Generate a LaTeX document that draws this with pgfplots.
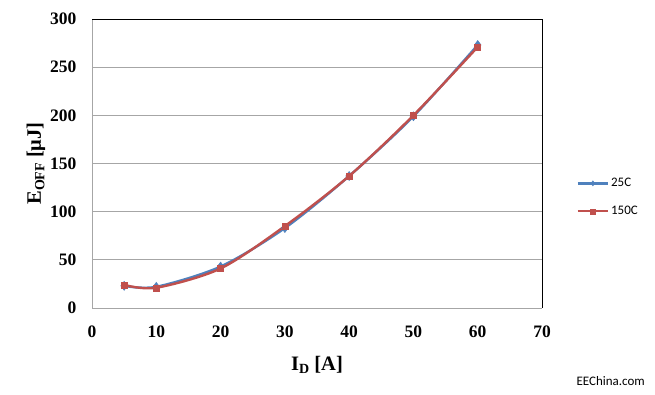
\documentclass[border=0pt]{standalone}
\usepackage{pgfplots}
\pgfplotsset{compat=1.18}
\usepackage{fontspec}
\setmainfont{Liberation Serif}
\newfontfamily\calibri{Carlito}
\definecolor{xblue}{HTML}{4F81BD}
\definecolor{xred}{HTML}{C0504D}
\definecolor{xgrid}{HTML}{A6A6A6}
\begin{document}
\begin{tikzpicture}
\useasboundingbox (0pt,0pt) rectangle (655pt,395pt);
\begin{axis}[
  at={(92pt,87pt)}, anchor=origin,
  scale only axis, width=450pt, height=289pt,
  xmin=0, xmax=70, ymin=0, ymax=300,
  xtick={0,10,...,70}, ytick={0,50,...,300},
  ymajorgrids, major grid style={xgrid, line width=0.8pt},
  axis line style={draw=none},
  tick style={draw=none},
  /pgf/number format/assume math mode=true,
  ticklabel style={font=\bfseries\fontsize{17.5}{17.5}\selectfont},
  xticklabel style={yshift=-14pt},
  yticklabel style={xshift=-12pt},
  xlabel={\bfseries\fontsize{20.5}{20.5}\selectfont I\raisebox{-0.35ex}{\fontsize{14}{14}\selectfont D} [A]},
  ylabel={\bfseries\fontsize{20.5}{20.5}\selectfont E\raisebox{-0.35ex}{\fontsize{14}{14}\selectfont OFF} [μJ]},
  xlabel style={yshift=-12pt},
  ylabel style={yshift=-2pt},
  legend style={at={(1.07,0.383)}, anchor=west, draw=none, fill=none,
    font=\calibri\fontsize{13}{13}\selectfont, row sep=14pt,
    /tikz/every even column/.append style={column sep=2pt}},
  legend cell align=left,
  legend image code/.code={\draw[#1] (0pt,0pt) -- (30pt,0pt); \path[#1,mark repeat=2,mark phase=2,mark size=2.5pt] plot coordinates {(0pt,0pt) (15pt,0pt) (30pt,0pt)};},
  after end axis/.code={
    \draw[xgrid, line width=0.8pt] (rel axis cs:0,1) -- (rel axis cs:0,0) -- (rel axis cs:1,0);
    \draw[black, line width=0.9pt] (rel axis cs:0,1) -- (rel axis cs:1,1) -- (rel axis cs:1,0);
  },
]
\addplot[xblue, line width=2.4pt, smooth, mark=diamond*, mark size=4.5pt, mark options={solid, line width=0.5pt}] coordinates {
(5,23) (10,22) (20,43) (30,83) (40,137) (50,199) (60,273)};
\addlegendentry{25C}
\addplot[xred, line width=2.4pt, smooth, mark=square*, mark size=3pt, mark options={solid, line width=0.5pt}] coordinates {
(5,24) (10,21) (20,41) (30,85) (40,137) (50,200) (60,271)};
\addlegendentry{150C}
\end{axis}
\node[anchor=base west, font=\calibri\fontsize{13}{13}\selectfont] at (573pt,9pt) {EEChina.com};
\end{tikzpicture}
\end{document}
